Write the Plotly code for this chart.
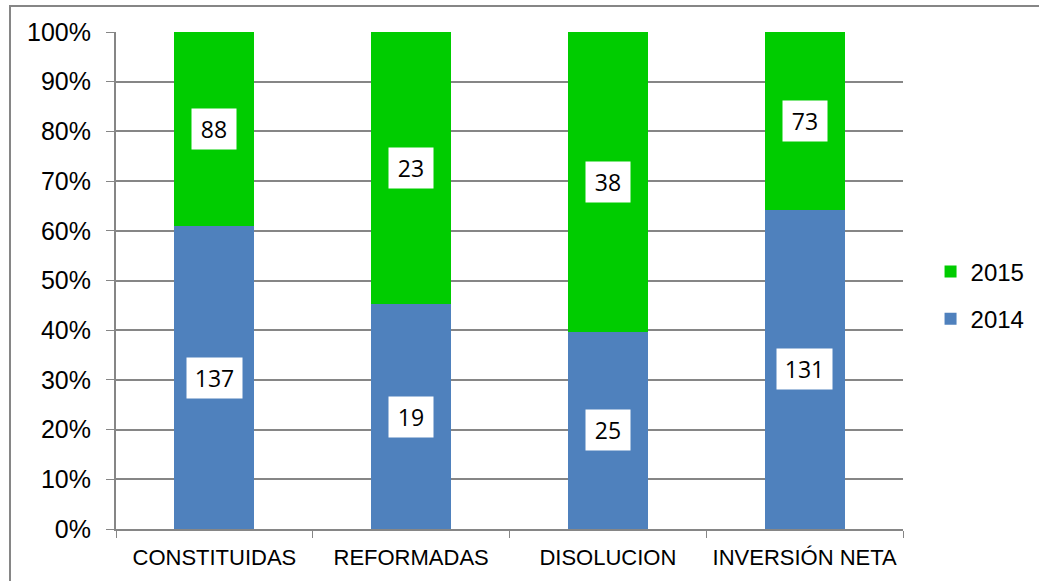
import plotly.graph_objects as go

categories = ["CONSTITUIDAS", "REFORMADAS", "DISOLUCION", "INVERSIÓN NETA"]
series_names = ["2014", "2015"]
values_2014 = [137, 19, 25, 131]
values_2015 = [88, 23, 38, 73]
colors = {"2014": "#4F81BD", "2015": "#00CC00"}
tick_vals = list(range(0, 101, 10))

L, R, T, B = 116, 137, 32, 52
W, H = 1040, 581
pw, ph = W - L - R, H - T - B

fig = go.Figure()
fig.add_trace(go.Bar(x=categories, y=values_2014, name="2014",
                     marker=dict(color=colors["2014"], line=dict(width=0)),
                     legendgroup="a", legendrank=2))
fig.add_trace(go.Bar(x=categories, y=values_2015, name="2015",
                     marker=dict(color=colors["2015"], line=dict(width=0)),
                     legendgroup="b", legendrank=1))

# data labels in white boxes at segment centres
for i, c in enumerate(categories):
    tot = values_2014[i] + values_2015[i]
    p14 = values_2014[i] / tot * 100
    p15 = values_2015[i] / tot * 100
    for val, yc in [(values_2014[i], p14 / 2), (values_2015[i], p14 + p15 / 2)]:
        s = str(val)
        fig.add_annotation(x=c, y=yc, text=s, showarrow=False,
                           bgcolor="white", borderpad=0,
                           width=len(s) * 11 + 22, height=40,
                           font=dict(family="Open Sans", size=23, color="black"))

def px_x(px):
    return (px - L) / pw

def px_y(py):
    return (H - B - py) / ph

# outer chart border: left and top edges (right/bottom fall outside the view)
x_l, x_r = px_x(10), px_x(1039)
y_t, y_b = px_y(6), px_y(600)
fig.add_shape(type="path", xref="paper", yref="paper",
              path=f"M {x_l} {y_b} L {x_l} {y_t} L {x_r} {y_t}",
              line=dict(color="#868686", width=2))

fig.update_layout(
    width=W, height=H,
    margin=dict(l=L, r=R, t=T, b=B, autoexpand=False),
    barmode="stack", barnorm="percent", bargap=0.594,
    plot_bgcolor="white", paper_bgcolor="white",
    font=dict(family="Liberation Sans, Arial", color="black"),
    showlegend=True,
    legend=dict(x=1.035, y=0.47, xanchor="left", yanchor="middle",
                traceorder="grouped", tracegroupgap=13,
                font=dict(size=24, family="Liberation Sans, Arial"),
                bgcolor="rgba(0,0,0,0)"),
    xaxis=dict(type="category", tickson="boundaries", ticks="outside",
               ticklen=7, tickcolor="#868686", showline=True,
               linecolor="#868686", linewidth=2, showgrid=False,
               ticklabelstandoff=8,
               tickfont=dict(size=22, family="Liberation Sans, Arial")),
    yaxis=dict(range=[0, 100], tickvals=tick_vals,
               ticktext=[f"{v}%" for v in tick_vals],
               ticks="outside", ticklen=8, tickcolor="#868686",
               showline=True, linecolor="#868686", linewidth=2,
               showgrid=True, gridcolor="#868686", gridwidth=2,
               zeroline=False, ticklabelstandoff=10,
               tickfont=dict(size=25, family="Liberation Sans, Arial")),
)

fig.write_html("out.html", config={"displayModeBar": False},
               post_script="document.body.style.margin='0';")
